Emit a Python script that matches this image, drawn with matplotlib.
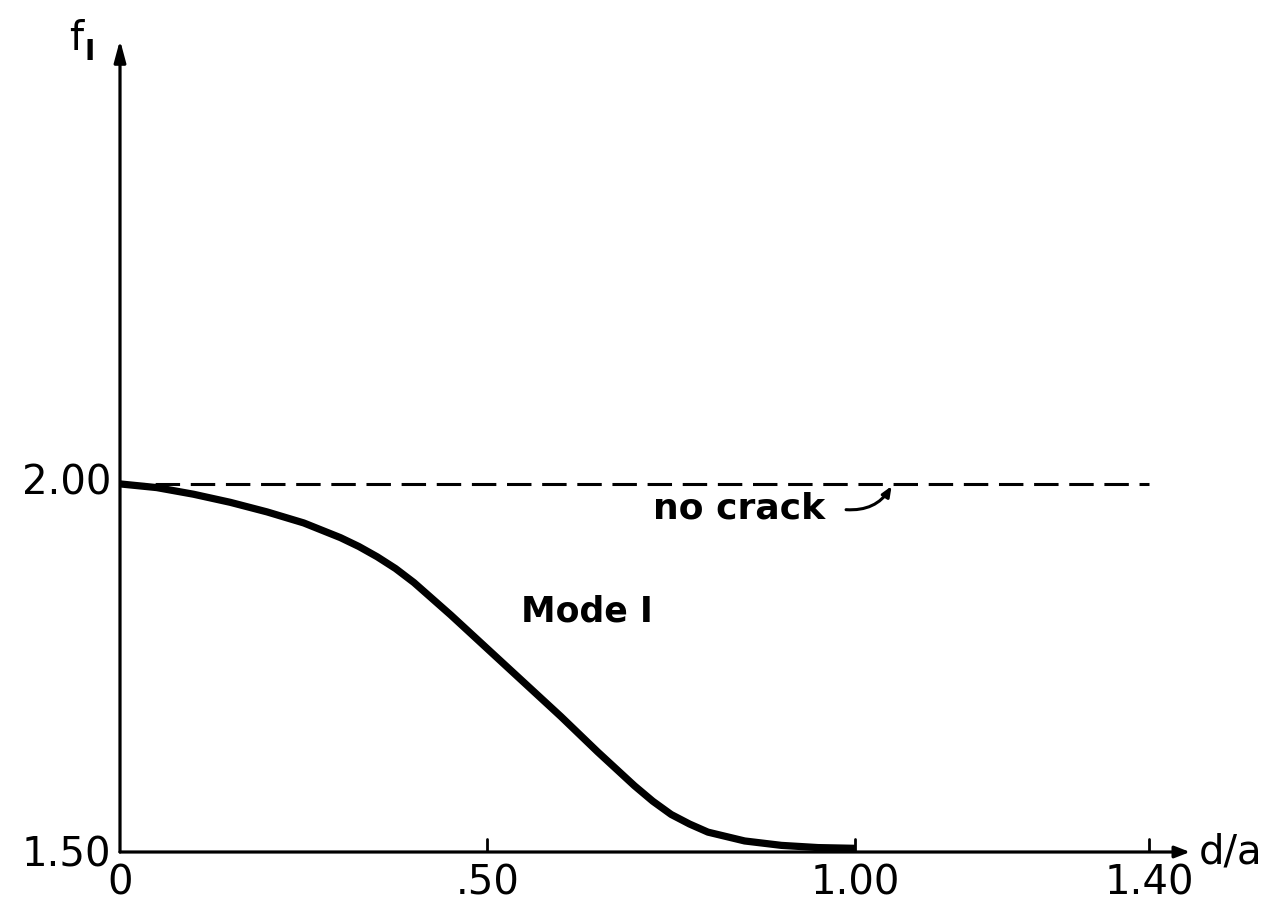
import matplotlib
matplotlib.use("Agg")
import matplotlib.pyplot as plt

# Mode I frequency factor versus crack depth ratio
d_over_a = [0.00, 0.05, 0.10, 0.15, 0.20, 0.25, 0.30, 0.325, 0.35, 0.375,
            0.40, 0.45, 0.50, 0.55, 0.60, 0.65, 0.70, 0.725, 0.75, 0.775,
            0.80, 0.85, 0.90, 0.95, 1.00]
f1_mode1 = [2.000, 1.995, 1.986, 1.975, 1.962, 1.947, 1.927, 1.915, 1.901,
            1.885, 1.866, 1.822, 1.776, 1.730, 1.684, 1.636, 1.590, 1.569,
            1.551, 1.538, 1.527, 1.515, 1.509, 1.506, 1.505]

# Reference level for the uncracked body
no_crack_x = [0.0, 1.40]
no_crack_f = [2.00, 2.00]

x_ticks = [0.0, 0.50, 1.00, 1.40]
x_tick_labels = ["0", ".50", "1.00", "1.40"]
y_ticks = [1.50, 2.00]
y_tick_labels = ["1.50", "2.00"]

X_END = 1.456
Y_END = 2.603

fig = plt.figure(figsize=(12.8, 9.1), dpi=100)
ax = fig.add_axes([120 / 1280, 58 / 910, 1070 / 1280, 812 / 910])
ax.set_xlim(0, X_END)
ax.set_ylim(1.50, Y_END)
ax.axis("off")

ink = "black"
fs = 29

# axes with arrowheads
ax.annotate("", xy=(X_END, 1.50), xytext=(0, 1.50),
            arrowprops=dict(arrowstyle="-|>,head_length=0.9,head_width=0.35",
                            lw=2.3, color=ink, shrinkA=0, shrinkB=0))
ax.annotate("", xy=(0, Y_END), xytext=(0, 1.50),
            arrowprops=dict(arrowstyle="-|>,head_length=1.3,head_width=0.35",
                            lw=2.3, color=ink, shrinkA=0, shrinkB=0))

# tick marks pointing into the plot
for xt in x_ticks[1:]:
    ax.plot([xt, xt], [1.50, 1.50 + 0.018], color=ink, lw=2.0,
            solid_capstyle="round")

for xt, lab in zip(x_ticks, x_tick_labels):
    ax.text(xt, 1.50 - 0.043, lab, ha="center", va="center", fontsize=fs,
            color=ink)
for yt, lab in zip(y_ticks, y_tick_labels):
    ax.text(-0.012, yt - (0.005 if yt == 1.50 else 0), lab, ha="right",
            va="center", fontsize=fs, color=ink)

# axis titles
ax.text(X_END + 0.012, 1.50, "d/a", ha="left", va="center", fontsize=fs,
        color=ink)
ax.text(-0.060, Y_END + 0.001, "f", ha="center", va="center", fontsize=fs,
        color=ink)
ax.text(-0.041, Y_END - 0.016, "I", ha="center", va="center", fontsize=20,
        color=ink, fontweight="bold")

# data
ax.plot(no_crack_x, no_crack_f, color=ink, lw=2.2, linestyle=(0, (8, 3.5)))
ax.plot(d_over_a, f1_mode1, color=ink, lw=5.2, solid_capstyle="butt",
        solid_joinstyle="round")

ax.text(0.545, 1.827, "Mode I", ha="left", va="center", fontsize=25,
        color=ink, fontweight="bold")
ax.text(0.725, 1.966, "no crack", ha="left", va="center", fontsize=26,
        color=ink, fontweight="bold")
ax.annotate("", xy=(1.05, 1.997), xytext=(0.988, 1.965),
            arrowprops=dict(arrowstyle="-|>,head_length=0.6,head_width=0.25",
                            lw=2.2, color=ink, shrinkA=0, shrinkB=0,
                            connectionstyle="arc3,rad=0.3"))

fig.savefig("out.png", dpi=100, facecolor="white")
